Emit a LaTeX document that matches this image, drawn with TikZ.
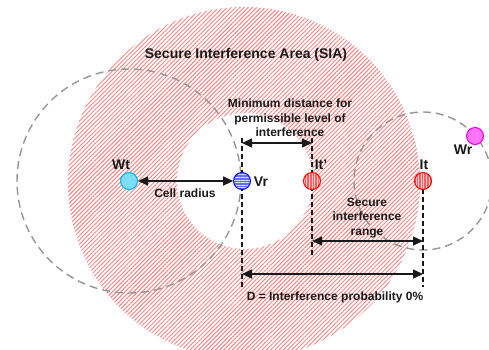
\documentclass[tikz,border=0pt]{standalone}
\usepackage{fontspec}
\setmainfont{Liberation Sans}
\usetikzlibrary{patterns.meta,arrows.meta}
\definecolor{hatch}{RGB}{243,132,132}
\definecolor{ringgray}{RGB}{150,150,150}
\definecolor{ink}{RGB}{25,25,25}
\definecolor{wtfill}{RGB}{125,222,250}
\definecolor{wtedge}{RGB}{0,176,240}
\definecolor{vrfill}{RGB}{95,110,255}
\definecolor{vredge}{RGB}{10,10,240}
\definecolor{itfill}{RGB}{255,95,95}
\definecolor{itedge}{RGB}{240,0,0}
\definecolor{wrfill}{RGB}{255,115,255}
\definecolor{wredge}{RGB}{225,0,225}
\begin{document}
\begin{tikzpicture}[x=1pt,y=-1pt,
  font=\bfseries\fontsize{12}{14.5}\selectfont, text=ink,
  ring/.style={draw=ringgray, line width=1.4pt, dash pattern=on 8pt off 5pt},
  guide/.style={draw=ink, line width=1.1pt, dash pattern=on 5pt off 3pt},
  span/.style={draw=ink, line width=1.3pt,
    {Triangle[length=10pt,width=9pt]}-{Triangle[length=10pt,width=9pt]}},
  station/.style={circle, minimum size=17pt, inner sep=0pt, line width=1pt},
  wtnode/.style={station, draw=wtedge, fill=wtfill},
  vrnode/.style={station, draw=vredge, preaction={fill=vrfill},
    pattern={Lines[angle=0,distance=2.6pt,line width=0.7pt]}, pattern color=white!80!vrfill},
  itnode/.style={station, draw=itedge, preaction={fill=itfill},
    pattern={Lines[angle=90,distance=2.6pt,line width=0.7pt]}, pattern color=white!70!itfill},
  wrnode/.style={station, draw=wredge, fill=wrfill},
  tag/.style={font=\bfseries\fontsize{14}{16}\selectfont, inner sep=0pt},
  note/.style={inner sep=0pt, align=center}
]
\useasboundingbox (0,0) rectangle (489,349);
\clip (0,0) rectangle (489,349);

% positions of the stations
\coordinate (pWt) at (129,181);
\coordinate (pVr) at (242,181);
\coordinate (pItp) at (312,181);
\coordinate (pIt) at (423,181);
\coordinate (pWr) at (475,136);

% secure interference area: hatched ring around the victim receiver
\path[pattern={Lines[angle=45,distance=3pt,line width=0.95pt]}, pattern color=hatch, even odd rule]
  (244,183) circle[radius=176] (245,181) circle[radius=68];

% coverage of the two cells
\draw[ring] (pWt) circle[radius=112];
\draw[ring] (pIt) circle[radius=69];

% dashed guide lines
\coordinate (gVrTop) at (242,138);
\coordinate (gVrBot) at (242,287);
\coordinate (gItpTop) at (312,138);
\coordinate (gItpBot) at (312,255);
\coordinate (gItBot) at (423,287);
\draw[guide] (gVrTop) -- (gVrBot);
\draw[guide] (gItpTop) -- (gItpBot);
\draw[guide] (pIt) -- (gItBot);

% stations
\node[wtnode] (wt) at (pWt) {};
\node[vrnode] (vr) at (pVr) {};
\node[itnode] (itp) at (pItp) {};
\node[itnode] (it) at (pIt) {};
\node[wrnode] (wr) at (pWr) {};

% distance arrows
\coordinate (mdL) at (242,143);
\coordinate (mdR) at (312,143);
\coordinate (sirL) at (312,241);
\coordinate (sirR) at (423,241);
\coordinate (dL) at (242,274);
\coordinate (dR) at (423,274);
\draw[span] (wt) -- (vr);
\draw[span] (mdL) -- (mdR);
\draw[span] (sirL) -- (sirR);
\draw[span] (dL) -- (dR);

% labels
\node[tag] (title) at (246,55) {Secure Interference Area (SIA)};
\node[tag] (lWt) at (121,165) {Wt};
\node[tag] (lVr) at (261,182) {Vr};
\node[tag] (lItp) at (321,165) {It'};
\node[tag] (lIt) at (424,165) {It};
\node[tag] (lWr) at (463,150) {Wr};
\node[note] (lCell) at (185,193) {Cell radius};
\node[note] (lMin) at (290,118) {Minimum distance for\\permissible level of\\interference};
\node[note] (lSir) at (367,218) {Secure\\interference\\range};
\node[note] (lD) at (335,297) {D = Interference probability 0\%};
\end{tikzpicture}
\end{document}
